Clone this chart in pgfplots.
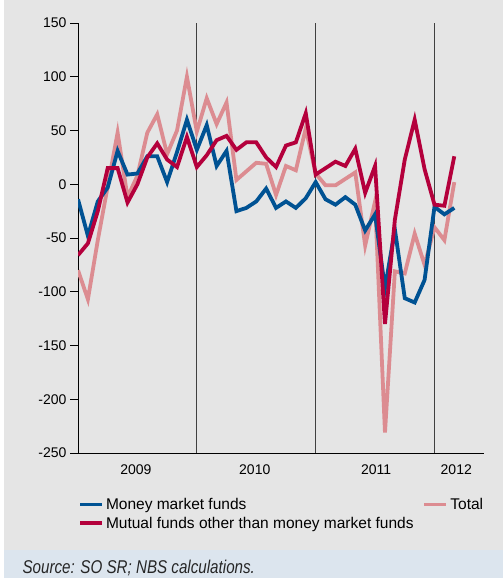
\documentclass[border=0pt]{standalone}
\usepackage{fontspec}
\setmainfont{Liberation Sans}
\newfontfamily\srcfont[FakeStretch=0.82]{Liberation Sans}
\usepackage{pgfplots}
\pgfplotsset{compat=1.18}

\definecolor{mmfblue}{RGB}{0,82,147}
\definecolor{mutred}{RGB}{180,0,60}
\definecolor{totpink}{RGB}{220,140,145}
\definecolor{bggray}{RGB}{229,229,229}
\definecolor{srcblue}{RGB}{220,229,238}

% month index 0 = Jan 2009
\pgfplotstableread{
m  mmf  mut  tot
0  -14  -66  -80
1  -48  -55  -107
2  -16  -25  -52
3  -3   15   -2
4  31   15   48
5  9    -17  -12
6  10   0    8
7  26   25   48
8  26   38   65
9  2    23   28
10 30   16   50
11 60   44   100
12 32   16   49
13 55   27   80
14 17   41   56
15 31   45   76
16 -25  32   4
17 -22  39   12
18 -16  39   20
19 -4   25   19
20 -22  16   -10
21 -16  36   17
22 -22  39   13
23 -13  66   52
24 2    9    10
25 -14  15   -1
26 -19  21   -1
27 -12  17   5
28 -19  33   11
29 -43  -8   -57
30 -28  17   -16
31 -97  -130 -231
32 -42  -33  -81
33 -106 23   -83
34 -110 60   -46
35 -89  14   -75
36 -21  -19  -40
37 -28  -20  -52
38 -22  26   2
}\flows

\begin{document}
\begin{tikzpicture}
\useasboundingbox (0pt,0pt) rectangle (503pt,-578pt);
\clip (0pt,0pt) rectangle (503pt,-578pt);
\fill[white] (0pt,0pt) rectangle (503pt,-578pt);
\fill[bggray] (4pt,0pt) rectangle (503pt,-550pt);
\fill[srcblue] (4pt,-550pt) rectangle (503pt,-578pt);
\begin{axis}[
  at={(78pt,-453pt)}, anchor=south west,
  scale only axis, width=406pt, height=430pt,
  xmin=0, xmax=41, ymin=-250, ymax=150,
  axis x line*=bottom, axis y line*=left,
  axis line style={line width=0.8pt, black},
  ytick={-250,-200,-150,-100,-50,0,50,100,150},
  yticklabels={-250,-200,-150,-100,-50,0,50,100,150},
  tick align=outside,
  major tick length=8pt,
  ytick style={line width=0.8pt, black},
  xtick={5.85,17.85,30.1,38.2},
  xticklabels={2009,2010,2011,2012},
  xtick style={draw=none},
  tick label style={font=\fontsize{14}{16}\selectfont},
  extra x ticks={12,24,36},
  extra x tick labels={},
  extra x tick style={grid=major, major grid style={black!75, line width=1pt}, tick style={draw=none}},
  every axis plot/.append style={line width=3.8pt},
  legend style={draw=none, fill=none, inner sep=0pt, row sep=2pt,
    at={(axis description cs:0,-0.1)}, anchor=north west,
    font=\fontsize{15.5}{17}\selectfont,
    /tikz/every even column/.append style={column sep=7pt}},
  legend columns=2,
  legend cell align=left,
  legend image code/.code={\draw[#1] (0pt,0pt) -- (22pt,0pt);},
]
\addplot[totpink, forget plot] table[x=m, y=tot] {\flows};
\addplot[mmfblue, forget plot] table[x=m, y=mmf] {\flows};
\addplot[mutred, forget plot] table[x=m, y=mut] {\flows};
\addlegendimage{mmfblue, line width=3.8pt}
\addlegendentry{Money market funds}
\addlegendimage{totpink, line width=3.8pt}
\addlegendentry{Total}
\addlegendimage{mutred, line width=3.8pt}
\addlegendentry{Mutual funds other than money market funds}
\end{axis}
\node[anchor=base west, font=\srcfont\itshape\fontsize{18.5}{20}\selectfont, text=black!85] at (19pt,-573pt) {Source: SO SR; NBS calculations.};
\end{tikzpicture}
\end{document}
